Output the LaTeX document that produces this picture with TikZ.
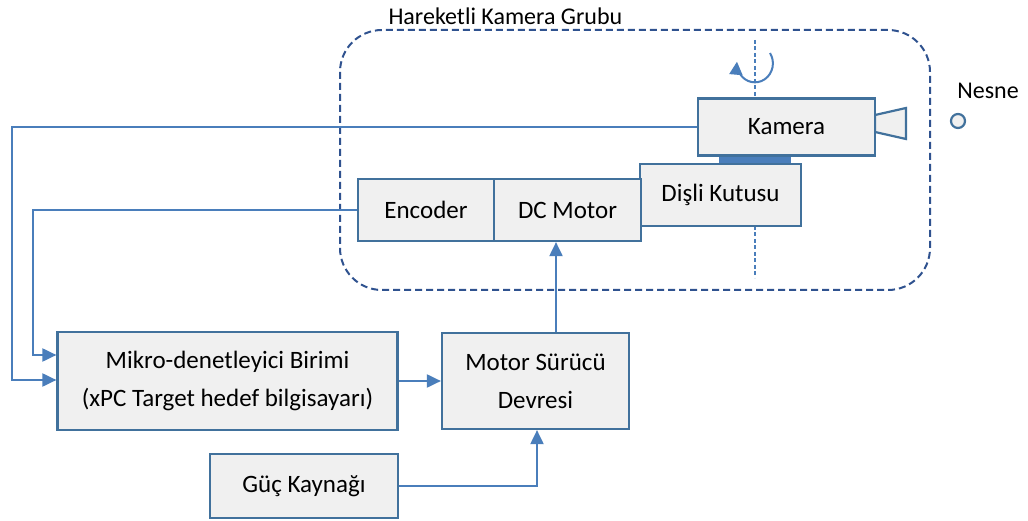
\documentclass[tikz,border=0pt]{standalone}
\usepackage{fontspec}
\setmainfont{Carlito}
\usetikzlibrary{arrows.meta}
\definecolor{boxfill}{HTML}{F0F0F0}
\definecolor{boxline}{HTML}{41719C}
\definecolor{conn}{HTML}{4A7EBB}
\definecolor{grp}{HTML}{2F528F}
\tikzset{
  blk/.style={draw=boxline, fill=boxfill, line width=2.2pt, inner sep=0pt, align=center,
    font=\fontsize{25}{38}\selectfont},
  wire/.style={draw=conn, line width=2pt},
  arr/.style={wire, -{Triangle[length=14pt,width=13pt]}},
  axis/.style={draw=conn, line width=1.3pt, dash pattern=on 4pt off 2.5pt},
}
\begin{document}
\begin{tikzpicture}[x=1pt,y=-1pt]
\useasboundingbox (0,0) rectangle (1028,521);
% group
\draw[draw=grp, line width=2pt, dash pattern=on 7pt off 4pt, rounded corners=42pt] (340,30) rectangle (930,290);
\node[anchor=west, font=\fontsize{24}{26}\selectfont] (grplbl) at (385,16) {Hareketli Kamera Grubu};
% axis
\draw[axis] (755,40) -- (755,98);
\draw[axis] (755,226) -- (755,278);
% rotation arrow
\draw[draw=conn, line width=2pt, -{Triangle[length=13pt,width=13pt]}] (770,53) arc[start angle=33, end angle=-185, x radius=18pt, y radius=19pt];
% camera
\fill[conn] (719,155) rectangle (791,163);
\draw[draw=boxline, fill=boxfill, line width=2.2pt] (875,115) -- (906,108) -- (906,139) -- (875,132) -- cycle;
\node[blk, minimum width=177pt, minimum height=57pt] (kam) at (786.5,127) {Kamera};
\node[blk, minimum width=161pt, minimum height=62pt] (disli) at (720.5,195) {Dişli Kutusu\vphantom{y}};
\node[blk, minimum width=136pt, minimum height=62pt] (enc) at (426,210) {Encoder};
\node[blk, minimum width=147pt, minimum height=62pt] (dc) at (567.5,210) {DC Motor};
% object
\node[draw=boxline, fill=boxfill, line width=2.2pt, circle, minimum size=14pt, inner sep=0pt] (nesne) at (958,121) {};
\node[font=\fontsize{24}{26}\selectfont] (nesnelbl) at (988,91) {Nesne};
% lower blocks
\node[blk, minimum width=340pt, minimum height=98pt] (mikro) at (227.5,381) {Mikro-denetleyici Birimi\\(xPC Target hedef bilgisayarı)};
\node[blk, minimum width=187pt, minimum height=96pt] (msd) at (535.5,381) {Motor Sürücü\\Devresi};
\node[blk, minimum width=188pt, minimum height=64pt] (guc) at (304,486) {Güç Kaynağı};
% connectors
\coordinate (k1) at (12,127);
\coordinate (k2) at (12,380);
\draw[arr] (kam.west) -- (k1) -- (k2) -- (mikro.west |- k2);
\coordinate (e1) at (33,210);
\coordinate (e2) at (33,355);
\draw[arr] (enc.west) -- (e1) -- (e2) -- (mikro.west |- e2);
\draw[arr] (mikro.east) -- (msd.west);
\coordinate (g1) at (537,486);
\draw[arr] (guc.east) -- (g1) -- (msd.south -| g1);
\draw[arr] (msd.north -| 556,0) -- (dc.south -| 556,0);
\end{tikzpicture}
\end{document}
